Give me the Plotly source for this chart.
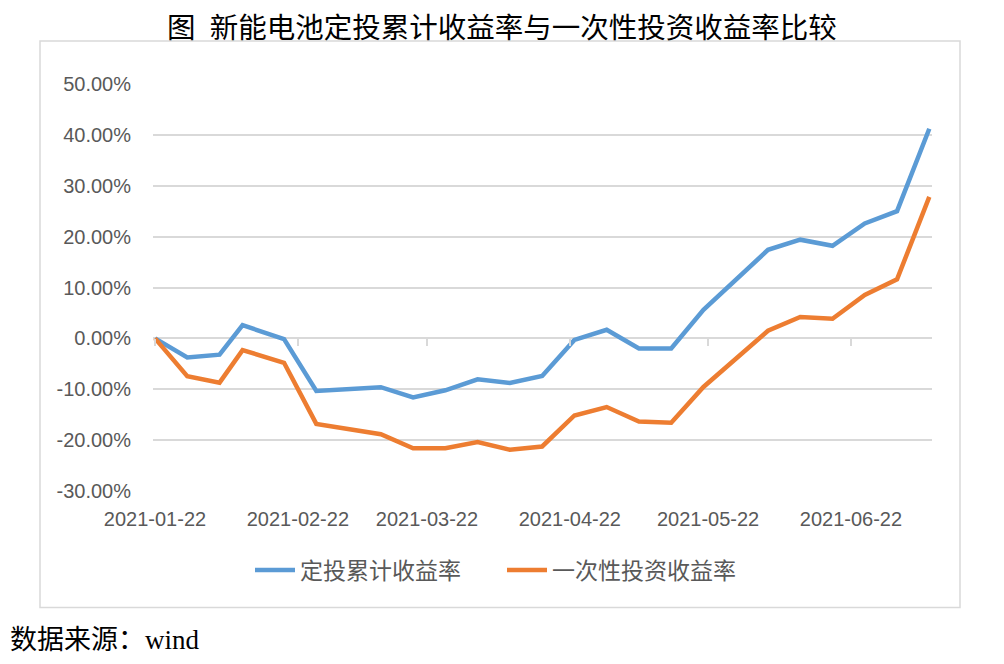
import plotly.graph_objects as go

# ---------------- data ----------------
dates = ["2021-01-22", "2021-01-29", "2021-02-05", "2021-02-10", "2021-02-19",
         "2021-02-26", "2021-03-12", "2021-03-19", "2021-03-26", "2021-04-02",
         "2021-04-09", "2021-04-16", "2021-04-23", "2021-04-30", "2021-05-07",
         "2021-05-14", "2021-05-21", "2021-05-28", "2021-06-04", "2021-06-11",
         "2021-06-18", "2021-06-25", "2021-07-02", "2021-07-09"]

sip_return = [0.0, -3.75, -3.2, 2.6, -0.15, -10.35, -9.6, -11.6, -10.2, -8.05,
              -8.75, -7.4, -0.3, 1.7, -2.0, -2.0, 5.6, 11.5, 17.4, 19.4,
              18.2, 22.6, 25.0, 41.2]

lump_return = [0.0, -7.45, -8.7, -2.3, -4.8, -16.8, -18.85, -21.6, -21.6, -20.4,
               -21.9, -21.25, -15.15, -13.5, -16.35, -16.6, -9.55, -3.95, 1.5, 4.2,
               3.85, 8.55, 11.6, 27.8]

series_names = ["定投累计收益率", "一次性投资收益率"]
tick_dates = ["2021-01-22", "2021-02-22", "2021-03-22", "2021-04-22",
              "2021-05-22", "2021-06-22"]
y_ticks = [-30, -20, -10, 0, 10, 20, 30, 40, 50]
y_tick_labels = ["%.2f%%" % v for v in y_ticks]

title_text = "图\u2002新能电池定投累计收益率与一次性投资收益率比较"
source_text = "数据来源：wind"

# ---------------- layout geometry (pixels) ----------------
W, H = 1004, 664
PL, PR, PT, PB = 153, 932, 84, 490.7   # plot area
pw, ph = PR - PL, PB - PT


def px_x(x):
    return (x - PL) / pw


def px_y(y):
    return (PB - y) / ph


blue = "#5B9BD5"
orange = "#ED7D31"
grid = "#D9D9D9"
txt = "#595959"
sans = "Liberation Sans, Noto Sans CJK SC, sans-serif"

fig = go.Figure()
fig.add_trace(go.Scatter(x=dates, y=sip_return, mode="lines",
                         name=series_names[0], line=dict(color=blue, width=4.5)))
fig.add_trace(go.Scatter(x=dates, y=lump_return, mode="lines",
                         name=series_names[1], line=dict(color=orange, width=4.5)))
# helper trace so that the tick-mark axis at the zero line is rendered
fig.add_trace(go.Scatter(x=[], y=[], xaxis="x2", yaxis="y", showlegend=False,
                         hoverinfo="skip"))

yr = [-30, 50]
zero_pos = (0 - yr[0]) / (yr[1] - yr[0])

fig.update_layout(
    width=W, height=H,
    margin=dict(l=PL, r=W - PR, t=PT, b=H - PB, autoexpand=False),
    paper_bgcolor="white", plot_bgcolor="white",
    title=dict(text=title_text, x=0.5, xref="container", xanchor="center",
               y=1 - 28 / H, yref="container", yanchor="middle",
               font=dict(family="Noto Sans CJK SC", size=28.5, color="#000000")),
    xaxis=dict(type="date", range=["2021-01-21 13:35", "2021-07-09 14:04"],
               tickvals=tick_dates, ticktext=tick_dates, showgrid=False,
               zeroline=False, showline=False, ticks="",
               ticklabelstandoff=14,
               tickfont=dict(family=sans, size=20, color=txt)),
    xaxis2=dict(type="date", overlaying="x", matches="x", anchor="free",
                position=zero_pos, tickvals=tick_dates, showticklabels=False,
                ticks="outside", ticklen=7, tickwidth=1.5, tickcolor=grid,
                showgrid=False, zeroline=False, showline=False),
    yaxis=dict(range=yr, tickvals=y_ticks, ticktext=y_tick_labels, showgrid=True,
               gridcolor=grid, gridwidth=1.5, zeroline=False, showline=False,
               ticks="", ticklabelstandoff=21,
               tickfont=dict(family=sans, size=20, color=txt)),
    legend=dict(orientation="h", xref="container", yref="container",
                x=0.5, xanchor="center", y=1 - 570 / H, yanchor="middle",
                font=dict(family="Noto Sans CJK SC", size=23, color=txt),
                bgcolor="rgba(0,0,0,0)", itemwidth=40,
                entrywidth=197, entrywidthmode="pixels"),
    showlegend=True,
)

# chart border
fig.add_shape(type="rect", xref="paper", yref="paper",
              x0=px_x(40), x1=px_x(960), y0=px_y(607), y1=px_y(41),
              line=dict(color=grid, width=1.5), fillcolor="rgba(0,0,0,0)",
              layer="below")

# source note
fig.add_annotation(text=source_text, xref="paper", yref="paper",
                   x=px_x(8), y=px_y(640), xanchor="left", yanchor="middle",
                   showarrow=False,
                   font=dict(family="Liberation Serif, Noto Sans CJK SC, serif",
                             size=27, color="#000000"))

fig.write_html("out.html", config={"displayModeBar": False},
               post_script="document.body.style.margin='0';")
